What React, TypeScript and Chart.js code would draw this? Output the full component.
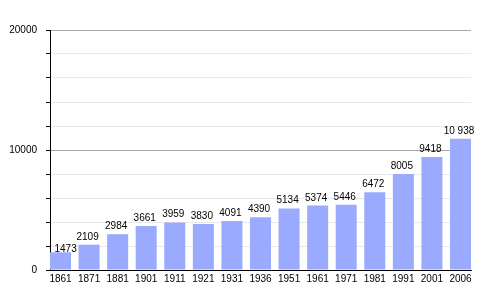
import React, { useEffect, useRef } from "react";
import { Chart, registerables } from "chart.js";

Chart.register(...registerables);

const years = ["1861", "1871", "1881", "1901", "1911", "1921", "1931", "1936", "1951", "1961", "1971", "1981", "1991", "2001", "2006"];
const population = [1473, 2109, 2984, 3661, 3959, 3830, 4091, 4390, 5134, 5374, 5446, 6472, 8005, 9418, 10938];
const valueLabels = ["1473", "2109", "2984", "3661", "3959", "3830", "4091", "4390", "5134", "5374", "5446", "6472", "8005", "9418", "10 938"];
const yLabeledTicks = [0, 10000, 20000];

const FONT = "'Liberation Sans', Arial, sans-serif";

const valueLabelPlugin = {
  id: "valueLabels",
  afterDatasetsDraw(chart: any) {
    const ctx = chart.ctx;
    const meta = chart.getDatasetMeta(0);
    ctx.save();
    ctx.font = `10px ${FONT}`;
    ctx.fillStyle = "#000";
    ctx.textBaseline = "alphabetic";
    meta.data.forEach((bar: any, i: number) => {
      const text = valueLabels[i];
      if (i === 0) {
        ctx.textAlign = "left";
        ctx.fillText(text, bar.x - 6, bar.y - 0.5);
      } else {
        ctx.textAlign = "center";
        ctx.fillText(text, bar.x - 1.5, bar.y - 5);
      }
    });
    ctx.restore();
  },
};

export default function App() {
  const canvasRef = useRef<HTMLCanvasElement | null>(null);

  useEffect(() => {
    const canvas = canvasRef.current;
    if (!canvas) return;
    const chart = new Chart(canvas, {
      type: "bar",
      data: {
        datasets: [
          {
            data: population.map((v, i) => ({ x: i, y: v })),
            backgroundColor: "#99aaff",
            borderWidth: 0,
            barPercentage: 0.735,
            categoryPercentage: 1,
          },
        ],
      },
      plugins: [valueLabelPlugin],
      options: {
        responsive: false,
        animation: false,
        devicePixelRatio: 1,
        layout: { padding: { top: 30, right: 29, bottom: 0, left: 0 } },
        plugins: {
          legend: { display: false },
          tooltip: { enabled: false },
        },
        scales: {
          x: {
            type: "linear",
            offset: false,
            min: -0.3675,
            max: 14.3675,
            afterFit: (scale: any) => {
              scale.height = 30;
            },
            afterBuildTicks: (scale: any) => {
              scale.ticks = years.map((_, i) => ({ value: i }));
            },
            grid: { display: false, drawTicks: false, offset: false },
            border: { display: true, color: "#000", width: 1 },
            ticks: {
              stepSize: 1,
              autoSkip: false,
              maxRotation: 0,
              padding: 3,
              color: "#000",
              font: { family: FONT, size: 10 },
              callback: (value: any) => (years[value] !== undefined ? years[value] : ""),
            },
          },
          y: {
            min: 0,
            max: 20000,
            afterFit: (scale: any) => {
              scale.width = 50;
            },
            grid: {
              color: (c: any) => (c.tick && c.tick.value % 10000 === 0 ? "#aaaaaa" : "#e8e8e8"),
              tickColor: "#000",
              tickLength: 4,
            },
            border: { display: true, color: "#000", width: 1 },
            ticks: {
              stepSize: 2000,
              padding: 9,
              color: "#000",
              font: { family: FONT, size: 10 },
              callback: (value: any) => (yLabeledTicks.includes(value) ? String(value) : ""),
            },
          },
        },
      },
    });
    return () => chart.destroy();
  }, []);

  return (
    <div style={{ position: "fixed", left: 0, top: 0, width: 500, height: 300, background: "#fff" }}>
      <canvas ref={canvasRef} width={500} height={300} style={{ width: 500, height: 300, display: "block" }} />
    </div>
  );
}
